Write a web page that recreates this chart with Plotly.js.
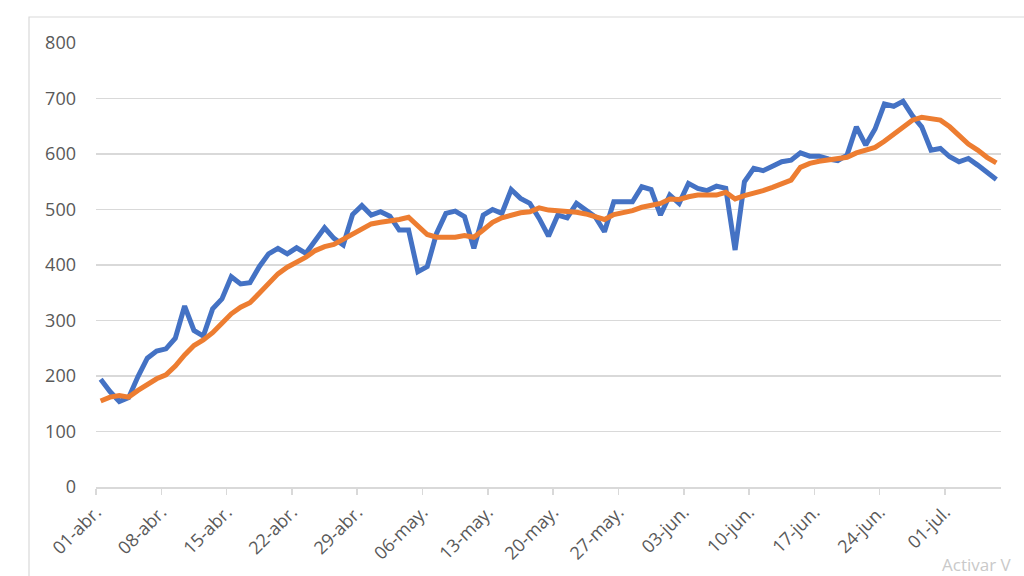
<!DOCTYPE html>
<html>
<head>
<meta charset="utf-8">
<script src="https://cdn.plot.ly/plotly-3.0.1.min.js"></script>
<style>
html,body{margin:0;padding:0;background:#fff;}
#chart{width:1024px;height:576px;}
</style>
</head>
<body>
<div id="chart"></div>
<script>
// Daily series, 01-abr to 06-jul
const startDate = '2020-04-01';
const dailyValues = [194,172,154,161,199,232,245,249,268,326,282,272,321,339,379,366,368,397,420,430,
  420,431,421,445,467,448,436,491,507,490,496,488,463,463,388,397,457,493,497,487,
  430,490,500,493,536,520,511,484,452,490,485,511,500,487,460,514,514,514,541,536,
  490,526,511,547,538,534,542,538,427,550,574,570,578,586,589,602,596,596,591,588,
  598,649,616,645,690,686,695,669,649,607,610,595,586,592,580,568,554];
const avgValues = [155,162,165,162,174,184,195,202,218,238,255,265,278,295,312,324,332,349,367,384,
  396,405,414,426,433,437,446,456,466,474,477,479,482,486,469,455,450,450,450,453,
  450,463,477,485,490,494,496,503,499,498,497,495,492,487,482,491,494,498,504,508,
  511,519,518,523,526,526,526,531,519,525,529,534,540,547,553,576,583,587,590,592,
  594,602,607,612,623,635,648,661,666,664,661,649,634,618,607,594,584];
const tickDates = ['2020-04-01','2020-04-08','2020-04-15','2020-04-22','2020-04-29','2020-05-06','2020-05-13',
  '2020-05-20','2020-05-27','2020-06-03','2020-06-10','2020-06-17','2020-06-24','2020-07-01'];
const tickLabels = ['01-abr.','08-abr.','15-abr.','22-abr.','29-abr.','06-may.','13-may.',
  '20-may.','27-may.','03-jun.','10-jun.','17-jun.','24-jun.','01-jul.'];
const yTicks = [0,100,200,300,400,500,600,700,800];

function dayAt(i){
  const d = new Date(startDate + 'T12:00:00Z');
  d.setUTCDate(d.getUTCDate() + i);
  return d.toISOString().slice(0,10) + ' 12:00';
}
const dates = dailyValues.map((_, i) => dayAt(i));

const traces = [
  {x: dates, y: dailyValues, type: 'scatter', mode: 'lines',
   line: {color: '#4472C4', width: 5}, hoverinfo: 'x+y'},
  {x: dates, y: avgValues, type: 'scatter', mode: 'lines',
   line: {color: '#ED7D31', width: 5}, hoverinfo: 'x+y'}
];

const fam = '"Open Sans", "Liberation Sans", sans-serif';

const layout = {
  width: 1024, height: 576,
  margin: {l: 96, r: 23, t: 43, b: 89},
  paper_bgcolor: '#ffffff', plot_bgcolor: '#ffffff',
  showlegend: false,
  font: {family: fam, size: 16, color: '#595959'},
  xaxis: {
    type: 'date',
    range: ['2020-04-01', '2020-07-07'],
    tickmode: 'array', tickvals: tickDates, ticktext: tickLabels,
    tickangle: -45,
    ticks: 'outside', ticklen: 6, tickcolor: '#d9d9d9', tickwidth: 1.5,
    showline: true, linecolor: '#d9d9d9', linewidth: 1.5,
    showgrid: false, zeroline: false,
    tickfont: {family: fam, size: 18, color: '#595959'}
  },
  yaxis: {
    range: [0, 800],
    tickmode: 'array', tickvals: yTicks,
    showgrid: true, gridcolor: '#d9d9d9', gridwidth: 1.5,
    zeroline: false, showline: false,
    ticks: '', ticklabelstandoff: 19,
    tickfont: {family: fam, size: 18, color: '#595959'}
  },
  shapes: [
    {type: 'rect', xref: 'paper', yref: 'paper',
     x0: (29-96)/905, x1: (1040-96)/905, y0: (487-600)/444, y1: (487-17)/444,
     line: {color: '#d9d9d9', width: 1.2}, fillcolor: 'rgba(0,0,0,0)', layer: 'below'}
  ],
  annotations: [
    {xref: 'paper', yref: 'paper', x: (940-96)/905, y: (487-564)/444,
     xanchor: 'left', yanchor: 'middle', showarrow: false,
     text: 'Activar V', font: {family: fam, size: 17, color: '#c9c9c9'}}
  ]
};

Plotly.newPlot('chart', traces, layout, {displayModeBar: false, staticPlot: true});
</script>
</body>
</html>
